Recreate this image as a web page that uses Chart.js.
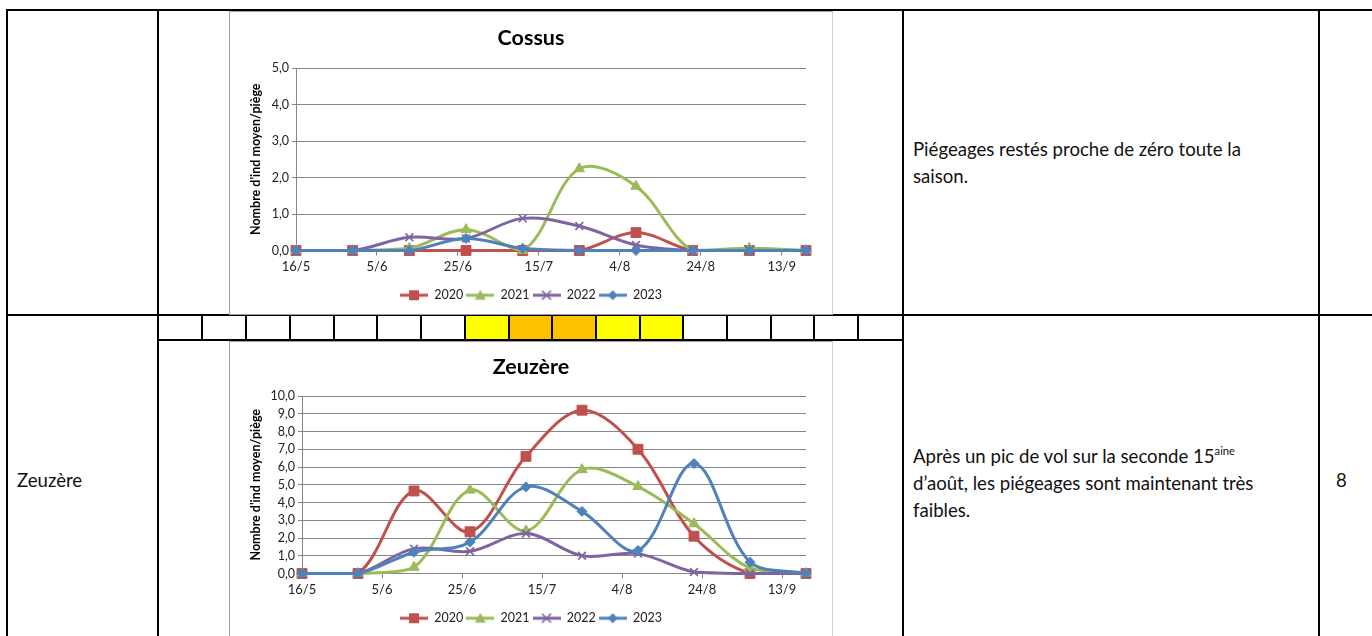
<!DOCTYPE html>
<html><head><meta charset="utf-8">
<script src="https://cdn.jsdelivr.net/npm/chart.js@4/dist/chart.umd.min.js"></script>
<style>
html,body{margin:0;padding:0;background:#fff;width:1372px;height:636px;overflow:hidden;font-family:Lato,"Open Sans",sans-serif;}
.ln{position:absolute;background:#000;}
.frame{position:absolute;box-sizing:border-box;border:1px solid #a0a0a0;border-right-color:#d0d0d0;background:#fff;overflow:hidden;}
.frame canvas{position:absolute;left:-1px;top:-1px;}
.txt{position:absolute;font-size:18.6px;line-height:27px;color:#111;white-space:nowrap;}
.txt sup{font-size:60%;line-height:0;vertical-align:0.7em;}
.cell{position:absolute;top:316px;height:23px;}
</style></head>
<body>
<div id="table"></div>
<div class="frame" style="left:229px;top:11px;width:604px;height:304px;"><canvas id="c1" width="604" height="304"></canvas></div>
<div class="frame" style="left:229px;top:341px;width:604px;height:304px;"><canvas id="c2" width="604" height="304"></canvas></div>
<div class="txt" style="left:913px;top:136px;">Piégeages restés proche de zéro toute la<br>saison.</div>
<div class="txt" style="left:913px;top:443px;">Après un pic de vol sur la seconde 15<sup>aine</sup><br>d’août, les piégeages sont maintenant très<br>faibles.</div>
<div class="txt" style="left:17px;top:467px;">Zeuzère</div>
<div class="txt" style="left:1336px;top:467px;">8</div>
<script>
// ---------- data ----------
const sampleDates = ['16/5','30/5','13/6','27/6','11/7','25/7','8/8','22/8','5/9','19/9'];
const tickLabels = ['16/5','5/6','25/6','15/7','4/8','24/8','13/9'];
const years = ['2020','2021','2022','2023'];
const cossus2020 = [0,0,0,0,0,0,0.49,0,0,0];
const cossus2021 = [0,0,0.06,0.57,0,2.24,1.76,0,0.06,0];
const cossus2022 = [0,0,0.36,0.33,0.88,0.67,0.15,0,0,0];
const cossus2023 = [0,0,0,0.33,0.06,0,0,0,0,0];
const zeuzere2020 = [0,0,4.65,2.35,6.6,9.2,7.0,2.1,0,0];
const zeuzere2021 = [0,0,0.35,4.7,2.4,5.85,4.9,2.8,0.3,0];
const zeuzere2022 = [0,0,1.4,1.25,2.25,1.0,1.12,0.08,0,0];
const zeuzere2023 = [0,0,1.2,1.77,4.88,3.5,1.3,6.2,0.64,0];
const bandColors = ['','','','','','','','#FFFF00','#FFC000','#FFC000','#FFFF00','#FFFF00','','','','',''];

// ---------- table lines ----------
const T = document.getElementById('table');
function line(x,y,w,h){const d=document.createElement('div');d.className='ln';d.style.cssText=`left:${x}px;top:${y}px;width:${w}px;height:${h}px`;T.appendChild(d);}
const bandX = [158,202,246,290,334,377,421,465,509,552,596,640,683,727,771,814,858,903];
bandColors.forEach((c,i)=>{ if(c){const d=document.createElement('div');d.className='cell';d.style.left=bandX[i]+'px';d.style.width=(bandX[i+1]-bandX[i])+'px';d.style.background=c;T.appendChild(d);} });
line(6,9,1370,2); line(6,314,1370,2); line(157,339,747,2);
line(6,9,2,640); line(157,9,2,640); line(902,9,2,640); line(1318,9,2,640);
bandX.slice(1,-1).forEach(x=>line(x-1,315,2,25));

// ---------- charts ----------
const F = 'Lato, "Open Sans", sans-serif';
const base = Date.UTC(2023,4,16);
function dayOf(s){const [d,m]=s.split('/').map(Number);return Math.round((Date.UTC(2023,m-1,d)-base)/86400000);}
const sampleDays = sampleDates.map(dayOf);
const tickDays = tickLabels.map(dayOf);

const styles = [
  {color:'#C0504D', point:'rect', r:7, bw:1},
  {color:'#9BBB59', point:'triangle', r:6, bw:1},
  {color:'#8064A2', point:'crossRot', r:5.5, bw:1.7},
  {color:'#4F81BD', point:'rectRot', r:5, bw:1}
];
function makeIcon(st){
  const c=document.createElement('canvas');c.width=28;c.height=12;const g=c.getContext('2d');
  g.strokeStyle=st.color;g.fillStyle=st.color;g.lineWidth=3;
  g.beginPath();g.moveTo(0,6);g.lineTo(28,6);g.stroke();
  const x=14,y=6;g.beginPath();
  if(st.point==='rect'){g.fillRect(x-5,y-5,10,10);}
  else if(st.point==='triangle'){g.moveTo(x,y-5.5);g.lineTo(x+5.5,y+4.5);g.lineTo(x-5.5,y+4.5);g.closePath();g.fill();}
  else if(st.point==='crossRot'){g.lineWidth=1.7;g.moveTo(x-4.5,y-4.5);g.lineTo(x+4.5,y+4.5);g.moveTo(x+4.5,y-4.5);g.lineTo(x-4.5,y+4.5);g.stroke();}
  else {g.moveTo(x,y-5);g.lineTo(x+5,y);g.lineTo(x,y+5);g.lineTo(x-5,y);g.closePath();g.fill();}
  return c;
}
const icons = styles.map(makeIcon);

function makeChart(id,title,series,yMax,geo){
  const datasets = series.map((vals,i)=>({
    label: years[i],
    data: vals.map((v,j)=>({x:sampleDays[j],y:v})),
    borderColor: styles[i].color, backgroundColor: styles[i].color,
    pointBackgroundColor: styles[i].color, pointBorderColor: styles[i].color,
    pointStyle: styles[i].point, pointRadius: styles[i].r, pointBorderWidth: styles[i].bw,
    borderWidth: 3, tension: 0.35, fill:false, clip:false, order: series.length-1-i
  }));
  return new Chart(document.getElementById(id),{
    type:'line',
    data:{datasets},
    options:{
      responsive:false, animation:false, devicePixelRatio:1,
      layout:{padding:{left:27,right:27,top:0,bottom:geo.padBottom}},
      plugins:{
        title:{display:true,text:title,color:'#000',font:{family:F,size:21.5,weight:'bold'},padding:{top:geo.tTop,bottom:geo.tBot}},
        legend:{position:'bottom',labels:{usePointStyle:true,pointStyleWidth:28,boxHeight:12,padding:3,color:'#222',font:{family:F,size:12.5},
          generateLabels:(ch)=>ch.data.datasets.map((ds,i)=>({text:ds.label,pointStyle:icons[i],fillStyle:'rgba(0,0,0,0)',strokeStyle:'rgba(0,0,0,0)',lineWidth:0,hidden:false,datasetIndex:i,fontColor:'#222'}))}},
        tooltip:{enabled:false}
      },
      scales:{
        x:{type:'linear',min:sampleDays[0],max:sampleDays[sampleDays.length-1],
          afterBuildTicks:(s)=>{s.ticks=tickDays.map(v=>({value:v}));},
          afterFit:(s)=>{s.height=geo.xHeight;},
          ticks:{autoSkip:false,maxRotation:0,padding:4,color:'#222',font:{family:F,size:13},callback:(v)=>{const k=tickDays.indexOf(v);return k>=0?tickLabels[k]:'';}},
          grid:{drawOnChartArea:false,drawTicks:true,tickLength:5,color:'#868686'},
          border:{color:'#868686'}},
        y:{min:0,max:yMax,
          afterFit:(s)=>{s.width=geo.yWidth;},
          ticks:{stepSize:1,autoSkip:false,padding:3,color:'#222',font:{family:F,size:12.5},callback:(v)=>Number(v).toFixed(1).replace('.',',')},
          grid:{color:'#868686',tickLength:4},
          border:{color:'#868686'},
          title:{display:true,text:"Nombre d'ind moyen/piège",color:'#000',font:{family:F,size:12.5,weight:'bold'},padding:{top:-7.5,bottom:0}}}
      }
    }
  });
}
makeChart('c1','Cossus',[cossus2020,cossus2021,cossus2022,cossus2023],5,{tTop:14.1,tBot:17.1,yWidth:40,xHeight:35.5,padBottom:3.5});
makeChart('c2','Zeuzère',[zeuzere2020,zeuzere2021,zeuzere2022,zeuzere2023],10,{tTop:13.1,tBot:16.1,yWidth:46,xHeight:35.5,padBottom:10.5});
</script>
</body></html>
